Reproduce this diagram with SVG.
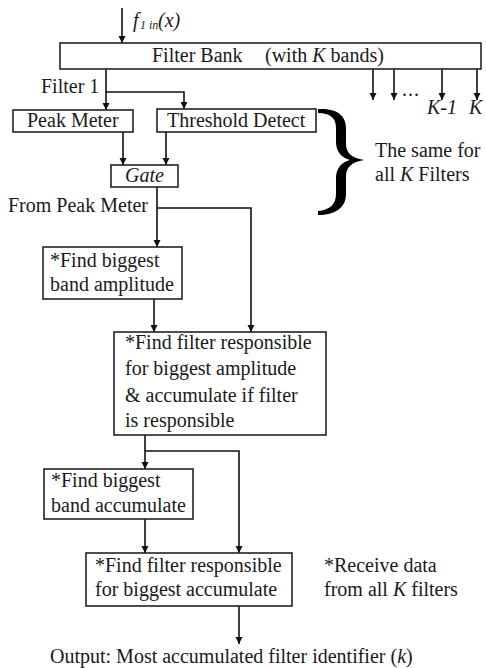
<svg xmlns="http://www.w3.org/2000/svg" width="486" height="668" viewBox="0 0 486 668">
<style>
text{font-family:"Liberation Serif","Times New Roman",serif;font-size:20px;fill:#1a1a1a}
.i{font-style:italic}
.box{fill:#fff;stroke:#222;stroke-width:1.6}
.ln{fill:none;stroke:#111;stroke-width:1.6}
.arr{marker-end:url(#ah)}
</style>
<defs>
<marker id="ah" markerUnits="userSpaceOnUse" markerWidth="8" markerHeight="9" refX="7" refY="4" orient="auto" viewBox="0 0 8 8">
<path d="M0,0.5 L7,4 L0,7.5 Z" fill="#111"/>
</marker>
</defs>
<g id="connectors">
<line class="ln arr" x1="122" y1="8" x2="122" y2="43"/>
<path class="ln arr" d="M106,69 V110"/>
<path class="ln arr" d="M106,92 H184 V109"/>
<line class="ln arr" x1="373" y1="69" x2="373" y2="100"/>
<line class="ln arr" x1="394" y1="69" x2="394" y2="100"/>
<line class="ln arr" x1="442" y1="69" x2="442" y2="100"/>
<line class="ln arr" x1="477" y1="69" x2="477" y2="100"/>
<line class="ln arr" x1="123" y1="132" x2="123" y2="165"/>
<line class="ln arr" x1="166" y1="132" x2="166" y2="165"/>
<path class="ln arr" d="M157,187 V247"/>
<path class="ln arr" d="M157,208 H251 V332"/>
<line class="ln arr" x1="154" y1="299" x2="154" y2="332"/>
<path class="ln arr" d="M145,435 V469"/>
<path class="ln arr" d="M145,451 H239 V553"/>
<line class="ln arr" x1="145" y1="519" x2="145" y2="553"/>
<line class="ln arr" x1="239" y1="606" x2="239" y2="644"/>
</g>
<g id="input">
<text x="133" y="27" class="i">f</text>
<text x="140" y="29" class="i" style="font-size:12px">1 in</text>
<text x="158" y="27" class="i">(x)</text>
</g>
<g id="filterbank">
<rect class="box" x="60" y="43" width="421" height="26"/>
<text x="152" y="62">Filter Bank</text>
<text x="265" y="62">(with <tspan class="i">K</tspan> bands)</text>
</g>
<g id="filter1label"><text x="41" y="93">Filter 1</text></g>
<g id="bands">
<text x="402" y="96" style="letter-spacing:1px">...</text>
<text x="427" y="114" class="i">K-1</text>
<text x="469" y="114" class="i">K</text>
</g>
<g id="peakmeter">
<rect class="box" x="13" y="110" width="120" height="22"/>
<text x="27" y="127">Peak Meter</text>
</g>
<g id="threshold">
<rect class="box" x="157" y="109" width="159" height="23"/>
<text x="167" y="127">Threshold Detect</text>
</g>
<g id="gate">
<rect class="box" x="111" y="165" width="67" height="22"/>
<text x="144.5" y="182" class="i" text-anchor="middle">Gate</text>
</g>
<g id="brace">
<path fill="#000" d="M318,109 C335,108 346,114 346,128 L346,144 C346,153 352,158 364,160 C352,162 346,167 346,176 L346,194 C346,208 335,215 318,215 L318,211 C330,210 336,204 336,194 L336,178 C336,168 342,162 350,160 C342,158 336,152 336,142 L336,128 C336,118 330,113 318,113 Z"/>
</g>
<g id="samenote">
<text x="375" y="157">The same for</text>
<text x="375" y="181">all <tspan class="i">K</tspan> Filters</text>
</g>
<g id="frompeak"><text x="8" y="212">From Peak Meter</text></g>
<g id="findamp">
<rect class="box" x="43" y="247" width="139" height="52"/>
<text x="50" y="267">*Find biggest</text>
<text x="50" y="291">band amplitude</text>
</g>
<g id="findfilteramp">
<rect class="box" x="114" y="332" width="212" height="103"/>
<text x="125" y="349">*Find filter responsible</text>
<text x="125" y="375">for biggest amplitude</text>
<text x="125" y="402">&amp; accumulate if filter</text>
<text x="125" y="427">is responsible</text>
</g>
<g id="findacc">
<rect class="box" x="44" y="469" width="149" height="50"/>
<text x="51" y="487">*Find biggest</text>
<text x="51" y="512">band accumulate</text>
</g>
<g id="findfilteracc">
<rect class="box" x="86" y="553" width="206" height="53"/>
<text x="95" y="572">*Find filter responsible</text>
<text x="95" y="596">for biggest accumulate</text>
</g>
<g id="receivenote">
<text x="324" y="572">*Receive data</text>
<text x="324" y="596">from all <tspan class="i">K</tspan> filters</text>
</g>
<g id="output">
<text x="50" y="663">Output: Most accumulated filter identifier (<tspan class="i">k</tspan>)</text>
</g>
</svg>
